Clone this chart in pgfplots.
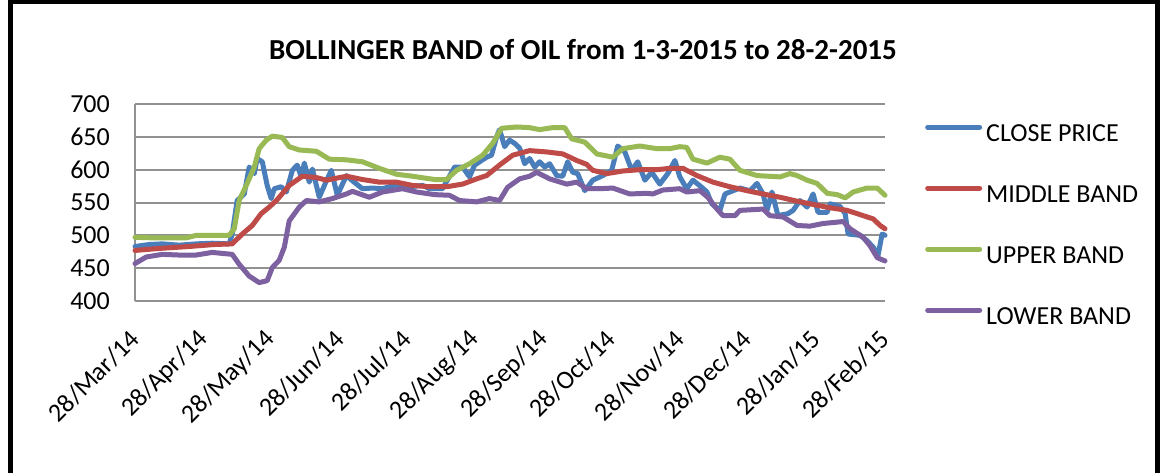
\documentclass[border=0pt]{standalone}
\usepackage{pgfplots}
\pgfplotsset{compat=1.18}
\usepackage{fontspec}
\setmainfont{Carlito}
\definecolor{cclose}{HTML}{4A7EBB}
\definecolor{cmid}{HTML}{BE4B48}
\definecolor{cup}{HTML}{98B954}
\definecolor{clow}{HTML}{7D60A0}
\definecolor{gridgray}{HTML}{919191}
\begin{document}
\begin{tikzpicture}[x=1pt,y=1pt]
\useasboundingbox (0,0) rectangle (1160,472);
\fill[white] (0,0) rectangle (1160,472);
\draw[line width=5pt] (10,-20) -- (10,470) -- (1157,470) -- (1157,-20);
\node[font=\fontsize{29}{34}\selectfont\bfseries] at (583,422) {BOLLINGER BAND of OIL from 1-3-2015 to 28-2-2015};
\begin{axis}[
  at={(135pt,171pt)}, anchor=south west,
  scale only axis, width=750pt, height=197pt,
  xmin=0, xmax=337, ymin=400, ymax=700,
  ytick={400,450,...,700},
  xtick={0,31,61,92,122,153,184,214,245,275,306,337},
  xticklabels={28/Mar/14,28/Apr/14,28/May/14,28/Jun/14,28/Jul/14,28/Aug/14,28/Sep/14,28/Oct/14,28/Nov/14,28/Dec/14,28/Jan/15,28/Feb/15},
  axis lines*=left,
  ymajorgrids,
  grid style={gridgray, line width=2pt},
  axis line style={gridgray, line width=2pt},
  major tick length=0pt,
  tick label style={font=\fontsize{26}{30}\selectfont},
  /pgf/number format/assume math mode=true,
  yticklabel style={anchor=east, inner sep=0pt},
  yticklabel shift=25pt,
  xticklabel style={rotate=45, anchor=east, inner sep=0pt},
  xticklabel shift=34pt,
  clip=false,
  legend style={at={(1.0493,0.916)}, anchor=north west, draw=none, fill=none,
    font=\fontsize{26}{30}\selectfont, row sep=36pt, column sep=4pt,
    nodes={inner sep=0pt, text height=19pt, text depth=6pt}},
  legend cell align=left,
  legend image code/.code={\draw[#1, line width=5pt, line cap=round] (0pt,8pt) -- (52pt,8pt);},
  every axis plot/.append style={line width=5pt, line join=round, line cap=round},
]
\addplot[cclose] coordinates {(0,483)(6.3,486)(12.2,487)(19.8,485)(27.5,487)(34.7,488)(42.3,487)(43.7,502)(45.9,553)(49.1,563)(51.3,604)(53.6,594)(54.9,617)(57.2,612)(59.4,576)(61.2,556)(62.6,571)(65.7,574)(68.0,566)(70.7,599)(72.9,607)(74.7,589)(76.1,610)(78.3,581)(79.7,601)(82.8,558)(86.0,583)(88.2,599)(90.9,561)(95.0,591)(97.7,583)(102.2,571)(106.7,572)(111.2,571)(117.5,577)(123.3,574)(129.2,576)(132.3,571)(138.2,571)(143.6,604)(147.2,604)(150.3,589)(152.6,607)(158.0,619)(160.2,622)(162.5,650)(163.8,661)(166.1,635)(168.3,645)(170.6,640)(172.8,633)(175.1,609)(177.3,617)(179.6,604)(181.8,612)(184.1,604)(186.3,609)(189.5,591)(192.2,590)(194.4,612)(196.7,596)(198.9,594)(202.1,568)(205.7,584)(210.2,591)(214.2,599)(216.9,636)(220.1,627)(223.2,599)(225.9,612)(229.1,584)(232.2,596)(235.8,578)(239.4,594)(242.6,614)(244.8,589)(247.9,571)(250.7,584)(254.7,573)(257.0,566)(259.2,548)(262.8,538)(265.1,563)(267.3,566)(271.8,572)(276.3,568)(279.5,579)(282.2,563)(284.0,538)(286.2,566)(288.9,530)(293.4,533)(295.7,538)(298.8,553)(302.0,543)(304.7,563)(306.9,535)(311.0,535)(312.3,548)(316.8,544)(319.1,533)(320.4,502)(325.8,500)(328.9,492)(331.7,482)(333.9,470)(335.7,502)(337,500)};
\addlegendentry{CLOSE PRICE}
\addplot[cmid] coordinates {(0,477)(10.8,480)(24.3,483)(35.6,486)(43.7,487)(48.2,502)(52.7,515)(56.7,533)(60.3,543)(63.5,553)(64.8,558)(69.3,576)(75.2,590)(81.5,588)(86.0,584)(95.0,590)(102.2,585)(109.8,581)(117.5,581)(124.7,576)(132.3,574)(140.0,574)(147.2,578)(153.5,586)(158.0,591)(163.8,607)(169.7,622)(177.3,629)(185.0,627)(192.2,624)(198.5,614)(203.0,608)(205.7,599)(212.0,594)(219.2,598)(226.8,600)(234.5,600)(240.3,602)(246.2,602)(252.5,591)(259.7,581)(267.3,574)(275.0,568)(282.2,563)(289.8,558)(297.5,552)(304.7,547)(312.3,542)(320.0,538)(327.2,530)(331.7,525)(334.8,515)(337,510)};
\addlegendentry{MIDDLE BAND}
\addplot[cup] coordinates {(0,497)(9.5,496)(23.0,496)(27.5,500)(42.3,500)(44.6,510)(46.8,553)(50.4,579)(53.6,604)(55.8,632)(59.0,645)(61.7,651)(66.2,649)(69.3,635)(73.8,630)(81.5,628)(87.3,616)(95.0,615)(102.2,612)(109.8,602)(117.5,593)(124.7,590)(134.6,585)(140.0,585)(144.5,599)(150.3,609)(156.2,622)(160.7,640)(164.7,663)(171.5,665)(177.3,664)(181.8,661)(187.7,664)(193.1,664)(196.2,647)(202.1,642)(207.5,624)(214.7,619)(219.2,632)(226.8,636)(234.5,632)(240.3,632)(244.8,635)(247.9,634)(250.7,616)(257.0,610)(262.8,619)(267.3,616)(271.8,599)(279.5,591)(289.8,589)(294.3,594)(297.5,591)(302.0,584)(306.5,579)(311.0,564)(315.5,562)(319.1,557)(322.7,566)(328.9,572)(333.5,572)(337,561)};
\addlegendentry{UPPER BAND}
\addplot[clow] coordinates {(0,457)(5.0,467)(12.2,471)(19.8,470)(27.5,470)(34.7,474)(43.7,471)(46.8,456)(51.3,438)(55.8,428)(59.4,431)(61.7,451)(64.8,462)(67.1,482)(69.3,522)(73.8,543)(77.0,553)(82.8,551)(88.7,556)(95.0,563)(97.7,567)(105.3,558)(111.2,566)(120.2,571)(126.5,566)(134.6,562)(141.3,561)(145.8,553)(153.5,551)(159.3,556)(163.8,553)(167.4,573)(172.8,586)(177.3,590)(180.5,596)(186.3,586)(194.0,578)(198.5,581)(203.0,571)(208.8,571)(214.7,572)(222.3,563)(230.0,564)(232.7,563)(237.2,569)(244.8,571)(247.9,566)(253.8,568)(257.4,558)(261.5,540)(264.2,530)(269.6,530)(271.8,538)(282.2,540)(285.3,530)(291.2,528)(297.5,515)(303.3,514)(309.2,518)(318.2,521)(321.3,510)(327.2,497)(330.3,484)(333.5,466)(337,461)};
\addlegendentry{LOWER BAND}
\end{axis}
\end{tikzpicture}
\end{document}
